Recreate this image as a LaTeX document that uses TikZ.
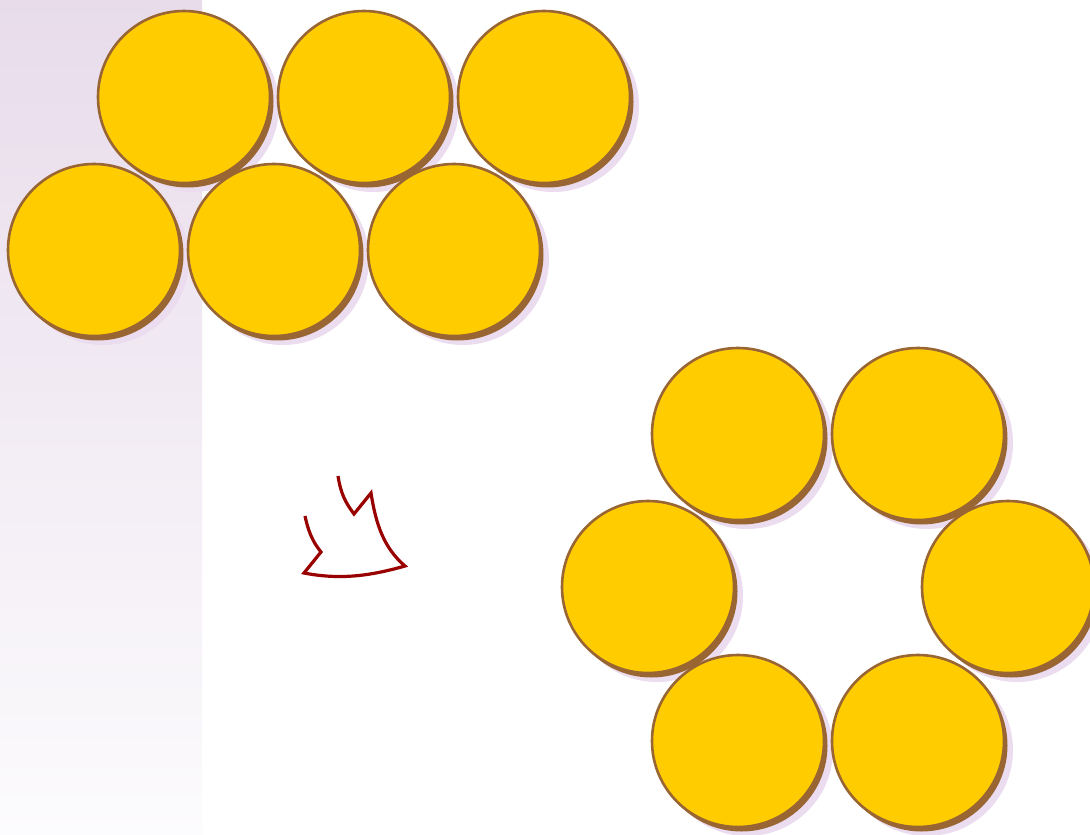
\documentclass[tikz,border=0pt]{standalone}
\usepackage{tikz}
\usepackage{xcolor}
\usetikzlibrary{shadows}
\definecolor{DiscFill}{HTML}{FFCC00}
\definecolor{DiscLine}{HTML}{996633}
\definecolor{DiscGlow}{HTML}{EBDCEF}
\definecolor{BandTop}{HTML}{E8DCEB}
\definecolor{BandBottom}{HTML}{FCFBFD}
\definecolor{TurnRed}{HTML}{990000}
\tikzset{
  disc/.style={circle,minimum size=172pt,inner sep=0pt,
    fill=DiscFill,draw=DiscLine,line width=2.6pt,
    general shadow={fill=DiscGlow,shadow xshift=9pt,shadow yshift=-9pt},
    general shadow={fill=DiscLine,shadow xshift=3.5pt,shadow yshift=-4.5pt}},
}

\begin{document}
\begin{tikzpicture}[x=1pt,y=-1pt]
        \useasboundingbox (0,0) rectangle (1090,835);
        \shade[top color=BandTop,bottom color=BandBottom] (0,0) rectangle (202,835);
        % packed rows
        \node[disc] (top1) at (184,97) {};
        \node[disc] (top2) at (364,97) {};
        \node[disc] (top3) at (544,97) {};
        \node[disc] (low1) at (94,250) {};
        \node[disc] (low2) at (274,250) {};
        \node[disc] (low3) at (454,250) {};
        % ring
        \node[disc] (ringA) at (738,434) {};
        \node[disc] (ringB) at (918,434) {};
        \node[disc] (ringC) at (648,587) {};
        \node[disc] (ringD) at (1008,587) {};
        \node[disc] (ringE) at (738,741) {};
        \node[disc] (ringF) at (918,741) {};
        \draw[TurnRed,line width=3.2pt,line join=miter]
          (338,476) .. controls (341,495) and (346,503) .. (354,514)
          -- (371,493) .. controls (376,525) and (384,548) .. (405,566)
          .. controls (370,576) and (340,580) .. (304,573)
          -- (321,552) .. controls (312,541) and (308,530) .. (305,516);
      \end{tikzpicture}
\end{document}
